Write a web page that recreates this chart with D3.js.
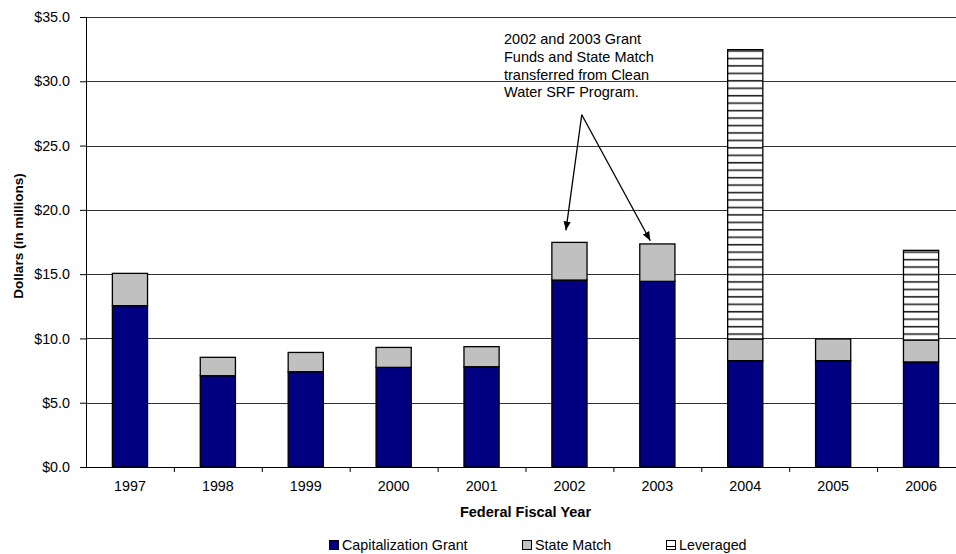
<!DOCTYPE html>
<html><head><meta charset="utf-8">
<script src="https://cdn.jsdelivr.net/npm/d3@7"></script>
<style>body{margin:0;background:#fff}svg{display:block;font-family:"Liberation Sans",Arial,sans-serif}</style>
</head><body><svg id="c" width="956" height="554"></svg>
<script>
const years = ["1997","1998","1999","2000","2001","2002","2003","2004","2005","2006"];
const capitalizationGrant = [12.55, 7.10, 7.41, 7.75, 7.80, 14.54, 14.44, 8.27, 8.27, 8.17];
const stateMatch = [2.51, 1.43, 1.50, 1.55, 1.56, 2.93, 2.91, 1.69, 1.69, 1.71];
const leveraged = [0, 0, 0, 0, 0, 0, 0, 22.5, 0, 6.97];
const yTicks = [0, 5, 10, 15, 20, 25, 30, 35];
const seriesNames = ["Capitalization Grant", "State Match", "Leveraged"];
const annotationLines = ["2002 and 2003 Grant", "Funds and State Match", "transferred from Clean", "Water SRF Program."];
// arrow: start point and targets in data terms (category, value)
const arrowStart = {year: "2002", offset: 0.64, value: 27.4};
const arrowTargets = [{year: "2002", offset: 0.46, value: 18.4}, {year: "2003", offset: 0.42, value: 17.6}];

const svg = d3.select("#c");
const mL = 86, mR = 965, mT = 17, mB = 467;
const x = d3.scaleBand().domain(years).range([mL, mR]).padding(0);
const y = d3.scaleLinear().domain([0, 35]).range([mB, mT]);
const barW = x.bandwidth() * 0.4, barOff = x.bandwidth() * 0.3;

const defs = svg.append("defs");
const pat = defs.append("pattern").attr("id", "hstripe").attr("patternUnits", "userSpaceOnUse")
  .attr("width", 8).attr("height", 7.45);
pat.append("rect").attr("width", 8).attr("height", 7.45).attr("fill", "#fff");
pat.append("rect").attr("y", 5.5).attr("width", 8).attr("height", 1.6).attr("fill", "#222");
defs.append("marker").attr("id", "arr").attr("viewBox", "0 0 10 10").attr("refX", 10).attr("refY", 5)
  .attr("markerWidth", 9).attr("markerHeight", 9).attr("markerUnits", "userSpaceOnUse").attr("orient", "auto")
  .append("path").attr("d", "M0,1 L10,5 L0,9 Z").attr("fill", "#000");

// gridlines
svg.append("g").selectAll("line").data(yTicks.filter(d => d > 0)).join("line")
  .attr("x1", mL).attr("x2", mR).attr("y1", d => Math.round(y(d)) + 0.5).attr("y2", d => Math.round(y(d)) + 0.5)
  .attr("stroke", "#333").attr("stroke-width", 1);

// stacked bars
const table = years.map((yr, i) => ({year: yr, cap: capitalizationGrant[i], state: stateMatch[i], lev: leveraged[i]}));
const stack = d3.stack().keys(["cap", "state", "lev"])(table);
const fills = ["#000080", "#c0c0c0", "url(#hstripe)"];
stack.forEach((layer, li) => {
  svg.append("g").selectAll("rect").data(layer.filter(d => d[1] - d[0] > 0)).join("rect")
    .attr("x", d => x(d.data.year) + barOff).attr("width", barW)
    .attr("y", d => y(d[1])).attr("height", d => y(d[0]) - y(d[1]))
    .attr("fill", fills[li]).attr("stroke", "#000").attr("stroke-width", 1.3);
});

// axes
const ya = svg.append("g").attr("transform", `translate(${mL},0)`)
  .call(d3.axisLeft(y).tickValues(yTicks).tickSize(6).tickPadding(10).tickFormat(d => "$" + d3.format(".1f")(d)));
ya.select(".domain").attr("d", `M0.5,${mT}V${mB}`).attr("stroke", "#000");
ya.selectAll("text").attr("font-size", 14.3).attr("fill", "#000").attr("font-family", "Liberation Sans, Arial, sans-serif");
ya.selectAll(".tick line").attr("stroke", "#000");

const xa = svg.append("g").attr("transform", `translate(0,${mB})`)
  .call(d3.axisBottom(x).tickSize(0).tickPadding(14));
xa.select(".domain").attr("d", `M${mL},0.5H${mR}`).attr("stroke", "#000");
xa.selectAll("text").attr("font-size", 14.3).attr("fill", "#000").attr("font-family", "Liberation Sans, Arial, sans-serif");
xa.append("g").selectAll("line").data(years).join("line")
  .attr("x1", d => x(d) + x.bandwidth() + 0.5).attr("x2", d => x(d) + x.bandwidth() + 0.5)
  .attr("y1", 0).attr("y2", 5).attr("stroke", "#000");

// axis titles
svg.append("text").attr("x", (mL + mR) / 2).attr("y", 517).attr("text-anchor", "middle")
  .attr("font-size", 14.5).attr("font-weight", "bold").text("Federal Fiscal Year");
svg.append("text").attr("transform", `translate(23,${(mT + mB) / 2 - 6}) rotate(-90)`).attr("text-anchor", "middle")
  .attr("font-size", 13.5).attr("font-weight", "bold").text("Dollars (in millions)");

// annotation
const ann = svg.append("text").attr("font-size", 14.5).attr("fill", "#000");
annotationLines.forEach((t, i) => ann.append("tspan").attr("x", 504).attr("y", 44 + i * 17.8).text(t));
const sx = x(arrowStart.year) + x.bandwidth() * arrowStart.offset, sy = y(arrowStart.value);
svg.append("g").selectAll("line").data(arrowTargets).join("line")
  .attr("x1", sx).attr("y1", sy)
  .attr("x2", d => x(d.year) + x.bandwidth() * d.offset).attr("y2", d => y(d.value))
  .attr("stroke", "#000").attr("stroke-width", 1.3).attr("marker-end", "url(#arr)");

// legend
const legX = [329, 522, 666];
const leg = svg.append("g");
seriesNames.forEach((n, i) => {
  const g = leg.append("g").attr("transform", `translate(${legX[i]},540)`);
  g.append("rect").attr("x", 0.5).attr("y", 0.5).attr("width", 9).attr("height", 9)
    .attr("fill", i === 2 ? "#fff" : fills[i]).attr("stroke", "#000");
  if (i === 2) g.append("line").attr("x1", 0.5).attr("x2", 9.5).attr("y1", 6.5).attr("y2", 6.5).attr("stroke", "#000");
  g.append("text").attr("x", 13).attr("y", 9.8).attr("font-size", 14.3).text(n);
});
</script></body></html>
